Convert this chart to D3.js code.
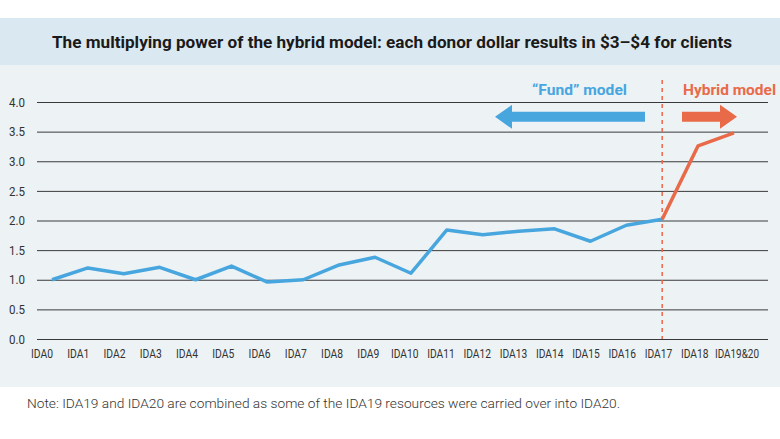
<!DOCTYPE html>
<html>
<head>
<meta charset="utf-8">
<script src="https://cdn.jsdelivr.net/npm/d3@7"></script>
<style>
  html, body { margin: 0; padding: 0; background: #fff; }
  svg { display: block; font-family: Roboto, 'Noto Sans', sans-serif; }
</style>
</head>
<body>
<div id="chart"></div>
<script>
// replenishment rounds and leverage (client $ per donor $)
const rounds = ['IDA0', 'IDA1', 'IDA2', 'IDA3', 'IDA4', 'IDA5', 'IDA6', 'IDA7', 'IDA8', 'IDA9',
  'IDA10', 'IDA11', 'IDA12', 'IDA13', 'IDA14', 'IDA15', 'IDA16', 'IDA17', 'IDA18', 'IDA19&20'];
const leverage = [1.0, 1.2, 1.1, 1.21, 1.0, 1.23, 0.96, 1.0, 1.25, 1.38,
  1.11, 1.84, 1.76, 1.82, 1.86, 1.65, 1.92, 2.02, 3.26, 3.48];
const yTicks = [0, 0.5, 1, 1.5, 2, 2.5, 3, 3.5, 4];
const splitRound = 'IDA17';

const width = 780
    , height = 439
    , blue = '#48a6df'
    , orange = '#e96a49'
    ;

const svg = d3.select('#chart')
  .append('svg')
    .attr('width', width)
    .attr('height', height);

// backgrounds
svg.append('rect').attr('x', 0).attr('y', 18).attr('width', width).attr('height', 47).attr('fill', '#dae8f1');
svg.append('rect').attr('x', 0).attr('y', 65).attr('width', width).attr('height', 322).attr('fill', '#edf2f5');

svg.append('text')
    .attr('x', 52)
    .attr('y', 48)
    .attr('font-size', 17)
    .attr('font-weight', 'bold')
    .attr('fill', '#1a1a1a')
    .attr('textLength', 680)
    .attr('lengthAdjust', 'spacingAndGlyphs')
    .text('The multiplying power of the hybrid model: each donor dollar results in $3\u2013$4 for clients');

const x = d3.scalePoint().domain(rounds).range([52, 734])
    , xLabel = d3.scalePoint().domain(rounds).range([42, 731]) // labels sit on their own slightly shifted grid
    , y = d3.scaleLinear().domain([0, 4]).range([339, 102])
    ;

// gridlines + y labels
svg.append('g')
    .attr('transform', 'translate(37,0)')
    .call(d3.axisLeft(y).tickValues(yTicks).tickFormat(d3.format('.1f')).tickSize(-731).tickPadding(12))
    .call(g => g.select('.domain').remove())
    .call(g => g.selectAll('.tick line').attr('stroke', '#3a3a3a').attr('stroke-width', 1))
    .call(g => g.selectAll('.tick text')
      .attr('fill', '#333')
      .attr('font-size', 13)
      .attr('font-family', 'Roboto, sans-serif')
      .attr('textLength', 16)
      .attr('lengthAdjust', 'spacingAndGlyphs'));

// x labels
svg.append('g')
  .selectAll('text')
  .data(rounds)
  .join('text')
    .attr('x', d => xLabel(d) + (d.length > 6 ? 6 : 0))
    .attr('y', 358)
    .attr('text-anchor', 'middle')
    .attr('font-size', 12)
    .attr('fill', '#333')
    .attr('textLength', d => d.length * 5.5)
    .attr('lengthAdjust', 'spacingAndGlyphs')
    .text(d => d);

// split marker
svg.append('line')
    .attr('x1', x(splitRound)).attr('x2', x(splitRound))
    .attr('y1', 80).attr('y2', y(0))
    .attr('stroke', orange)
    .attr('stroke-width', 1.5)
    .attr('stroke-dasharray', '4,4');

const pts = rounds.map((r, i) => ({ r, v: leverage[i] }))
    , splitIdx = rounds.indexOf(splitRound)
    , line = d3.line().x(d => x(d.r)).y(d => y(d.v))
    ;

svg.append('path')
    .attr('d', line(pts.slice(0, splitIdx + 1)))
    .attr('fill', 'none')
    .attr('stroke', blue)
    .attr('stroke-width', 3.5)
    .attr('stroke-linejoin', 'round');

svg.append('path')
    .attr('d', line(pts.slice(splitIdx)))
    .attr('fill', 'none')
    .attr('stroke', orange)
    .attr('stroke-width', 3.5)
    .attr('stroke-linejoin', 'round');

// model arrows
function arrow(x0, x1, yc, color) {
  const dir = Math.sign(x1 - x0)
      , headLen = 17
      , half = 5
      , headHalf = 12
      , xb = x1 - dir * headLen
      ;
  svg.append('path')
      .attr('d', `M${x0},${yc - half}L${xb},${yc - half}L${xb},${yc - headHalf}L${x1},${yc}` +
        `L${xb},${yc + headHalf}L${xb},${yc + half}L${x0},${yc + half}Z`)
      .attr('fill', color);
}

const arrowY = y(3.75);
arrow(645, 495, arrowY, blue);
arrow(682, 737, arrowY, orange);

svg.append('text')
    .attr('x', 532).attr('y', 95)
    .attr('font-size', 14).attr('font-weight', 'bold')
    .attr('fill', blue)
    .attr('textLength', 95).attr('lengthAdjust', 'spacingAndGlyphs')
    .text('\u201CFund\u201D model');

svg.append('text')
    .attr('x', 683).attr('y', 95)
    .attr('font-size', 14).attr('font-weight', 'bold')
    .attr('fill', orange)
    .attr('textLength', 93).attr('lengthAdjust', 'spacingAndGlyphs')
    .text('Hybrid model');

svg.append('text')
    .attr('x', 27).attr('y', 408)
    .attr('font-size', 13)
    .attr('font-weight', 300)
    .attr('fill', '#333')
    .attr('textLength', 593).attr('lengthAdjust', 'spacingAndGlyphs')
    .text('Note: IDA19 and IDA20 are combined as some of the IDA19 resources were carried over into IDA20.');
</script>
</body>
</html>
